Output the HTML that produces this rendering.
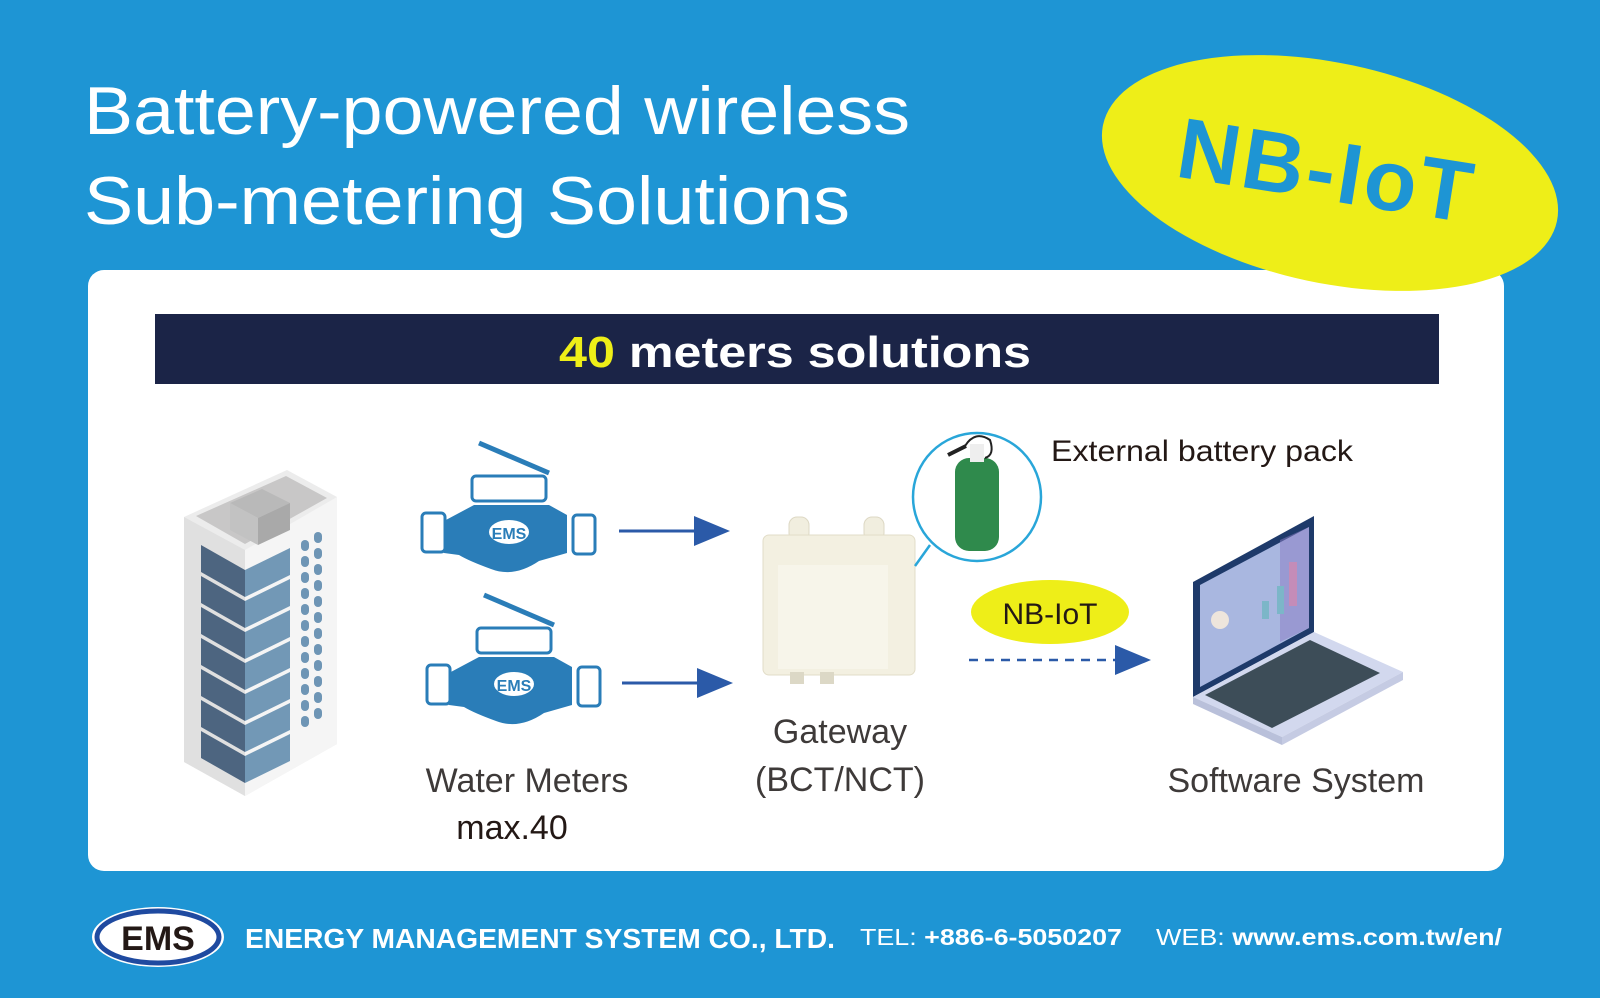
<!DOCTYPE html>
<html><head><meta charset="utf-8"><style>
html,body{margin:0;padding:0}
body{width:1600px;height:998px;background:#1e95d4;position:relative;overflow:hidden;font-family:"Liberation Sans",sans-serif}
svg{position:absolute;left:0;top:0}
</style></head><body>
<svg width="1600" height="998" viewBox="0 0 1600 998" xmlns="http://www.w3.org/2000/svg">
<rect width="1600" height="998" fill="#1e95d4"/>
<text x="84" y="134" font-size="68" fill="#fff" textLength="826" lengthAdjust="spacingAndGlyphs">Battery-powered wireless</text>
<text x="84" y="224" font-size="68" fill="#fff" textLength="766" lengthAdjust="spacingAndGlyphs">Sub-metering Solutions</text>
<rect x="88" y="270" width="1416" height="601" rx="16" fill="#fff"/>
<ellipse cx="1330" cy="173" rx="232" ry="110" transform="rotate(12 1330 173)" fill="#eeee18"/>
<text x="1326" y="200" font-size="86" font-weight="bold" fill="#1e95d4" text-anchor="middle" transform="rotate(9 1326 175)" letter-spacing="3">NB-IoT</text>
<rect x="155" y="314" width="1284" height="70" fill="#1b2447"/>
<text x="559" y="367" font-size="44" font-weight="bold" fill="#fff" textLength="472" lengthAdjust="spacingAndGlyphs"><tspan fill="#eeee18">40</tspan> meters solutions</text>
<g>
<polygon points="184,517 287,470 337,497 337,744 245,796 184,762" fill="#ececec"/>
<polygon points="245,550 337,497 337,744 245,796" fill="#f5f5f5"/>
<polygon points="184,517 245,550 245,796 184,762" fill="#e0e0e0"/>
<polygon points="196,516 286,476 327,498 245,544" fill="#c8c7c7"/>
<polygon points="230,503 262,489 290,503 258,518" fill="#b9b9b9"/>
<polygon points="258,518 290,503 290,530 258,545" fill="#a9a9a9"/>
<polygon points="230,503 258,518 258,545 230,530" fill="#c2c2c2"/>
<g fill="#4d6580">
<polygon points="201,545 245,570 245,597 201,572"/><polygon points="201,576 245,601 245,628 201,603"/>
<polygon points="201,607 245,632 245,659 201,634"/><polygon points="201,638 245,663 245,690 201,665"/>
<polygon points="201,669 245,694 245,721 201,696"/><polygon points="201,700 245,725 245,752 201,727"/>
<polygon points="201,731 245,756 245,783 201,758"/>
</g>
<g fill="#7298b6">
<polygon points="245,570 290,548 290,575 245,597"/><polygon points="245,601 290,579 290,606 245,628"/>
<polygon points="245,632 290,610 290,637 245,659"/><polygon points="245,663 290,641 290,668 245,690"/>
<polygon points="245,694 290,672 290,699 245,721"/><polygon points="245,725 290,703 290,730 245,752"/>
<polygon points="245,756 290,734 290,761 245,783"/>
</g>
<g fill="#6e95b5">
<rect x="301" y="540" width="8" height="11" rx="4"/><rect x="314" y="532" width="8" height="11" rx="4"/>
<rect x="301" y="556" width="8" height="11" rx="4"/><rect x="314" y="548" width="8" height="11" rx="4"/>
<rect x="301" y="572" width="8" height="11" rx="4"/><rect x="314" y="564" width="8" height="11" rx="4"/>
<rect x="301" y="588" width="8" height="11" rx="4"/><rect x="314" y="580" width="8" height="11" rx="4"/>
<rect x="301" y="604" width="8" height="11" rx="4"/><rect x="314" y="596" width="8" height="11" rx="4"/>
<rect x="301" y="620" width="8" height="11" rx="4"/><rect x="314" y="612" width="8" height="11" rx="4"/>
<rect x="301" y="636" width="8" height="11" rx="4"/><rect x="314" y="628" width="8" height="11" rx="4"/>
<rect x="301" y="652" width="8" height="11" rx="4"/><rect x="314" y="644" width="8" height="11" rx="4"/>
<rect x="301" y="668" width="8" height="11" rx="4"/><rect x="314" y="660" width="8" height="11" rx="4"/>
<rect x="301" y="684" width="8" height="11" rx="4"/><rect x="314" y="676" width="8" height="11" rx="4"/>
<rect x="301" y="700" width="8" height="11" rx="4"/><rect x="314" y="692" width="8" height="11" rx="4"/>
<rect x="301" y="716" width="8" height="11" rx="4"/><rect x="314" y="708" width="8" height="11" rx="4"/>
</g>
</g>
<defs>
<g id="meter">
<line x1="60" y1="0" x2="130" y2="30" stroke="#2a7db8" stroke-width="5"/>
<rect x="53" y="33" width="74" height="25" rx="4" fill="#fff" stroke="#2a7db8" stroke-width="3"/>
<path d="M25 78 L55 62 L130 62 L148 72 L148 110 L120 118 Q95 135 72 126 Q50 118 40 112 L25 110 Z" fill="#2a7db8"/>
<rect x="3" y="70" width="23" height="39" rx="4" fill="#fff" stroke="#2a7db8" stroke-width="3"/>
<rect x="154" y="72" width="22" height="39" rx="4" fill="#fff" stroke="#2a7db8" stroke-width="3"/>
<ellipse cx="90" cy="89" rx="20" ry="12" fill="#fff"/>
<text x="90" y="96" font-size="16" font-weight="bold" fill="#2a7db8" text-anchor="middle">EMS</text>
</g>
</defs>
<use href="#meter" x="419" y="443"/>
<use href="#meter" x="424" y="595"/>
<line x1="619" y1="531" x2="698" y2="531" stroke="#2b5aa8" stroke-width="3"/>
<polygon points="694,516 730,531 694,546" fill="#2b5aa8"/>
<line x1="622" y1="683" x2="700" y2="683" stroke="#2b5aa8" stroke-width="3"/>
<polygon points="697,668 733,683 697,698" fill="#2b5aa8"/>
<rect x="789" y="517" width="20" height="24" rx="8" fill="#f1eedf" stroke="#ddd8c4"/>
<rect x="864" y="517" width="20" height="24" rx="8" fill="#f1eedf" stroke="#ddd8c4"/>
<rect x="763" y="535" width="152" height="140" rx="6" fill="#f3f0e1" stroke="#e2ddc8"/>
<rect x="778" y="565" width="110" height="104" fill="#f7f5ea"/>
<rect x="790" y="672" width="14" height="12" fill="#dcd8c6"/><rect x="820" y="672" width="14" height="12" fill="#dcd8c6"/>
<line x1="930" y1="545" x2="915" y2="566" stroke="#29a6d9" stroke-width="2.5"/>
<circle cx="977" cy="497" r="64" fill="#fff" stroke="#29a6d9" stroke-width="2.5"/>
<rect x="955" y="458" width="44" height="93" rx="14" fill="#2f8a4c"/>
<rect x="970" y="444" width="14" height="18" fill="#eee"/>
<path d="M965 446 Q975 430 990 440 Q995 455 985 458" fill="none" stroke="#222" stroke-width="2"/>
<line x1="948" y1="455" x2="966" y2="446" stroke="#222" stroke-width="4"/>
<text x="1051" y="461" font-size="30" fill="#231815" textLength="302" lengthAdjust="spacingAndGlyphs">External battery pack</text>
<ellipse cx="1050" cy="612" rx="79" ry="32" fill="#eeee18"/>
<text x="1050" y="624" font-size="30" fill="#231815" text-anchor="middle">NB-IoT</text>
<line x1="969" y1="660" x2="1118" y2="660" stroke="#2b5aa8" stroke-width="2.5" stroke-dasharray="9,7"/>
<polygon points="1115,645 1151,660 1115,675" fill="#2b5aa8"/>
<polygon points="1193,582 1314,516 1314,632 1193,697" fill="#1e3a6a"/>
<polygon points="1200,585 1309,527 1309,628 1200,687" fill="#a9b7e0"/>
<polygon points="1280,540 1309,527 1309,628 1280,642" fill="#8a7bc4" opacity="0.5"/>
<rect x="1289" y="562" width="8" height="44" fill="#c48cb8"/>
<rect x="1277" y="586" width="7" height="28" fill="#7cb6c8"/>
<rect x="1262" y="601" width="7" height="18" fill="#7cb6c8"/>
<circle cx="1220" cy="620" r="9" fill="#eee5dc"/>
<polygon points="1193,697 1314,632 1403,672 1282,737" fill="#d2d8ee"/>
<polygon points="1205,695 1310,640 1380,673 1272,728" fill="#3d4d58"/>
<polygon points="1193,697 1282,737 1282,745 1193,704" fill="#b9c0da"/>
<polygon points="1282,737 1403,672 1403,680 1282,745" fill="#c5cbe3"/>
<g font-size="34" fill="#3e3a39" text-anchor="middle">
<text x="527" y="792">Water Meters</text>
<text x="512" y="839" fill="#231815">max.40</text>
<text x="840" y="743">Gateway</text>
<text x="840" y="791">(BCT/NCT)</text>
<text x="1296" y="792">Software System</text>
</g>
<ellipse cx="158" cy="937" rx="66" ry="30" fill="#fff"/>
<ellipse cx="158" cy="937" rx="61" ry="26" fill="none" stroke="#1f4aa0" stroke-width="5"/>
<text x="158" y="950" font-size="34" font-weight="bold" fill="#231815" text-anchor="middle">EMS</text>
<text x="245" y="948" font-size="28" font-weight="bold" fill="#fff" textLength="590" lengthAdjust="spacingAndGlyphs">ENERGY MANAGEMENT SYSTEM CO., LTD.</text>
<text x="860" y="945" font-size="23" fill="#fff" textLength="262" lengthAdjust="spacingAndGlyphs">TEL: <tspan font-weight="bold">+886-6-5050207</tspan></text>
<text x="1156" y="945" font-size="23" fill="#fff" textLength="346" lengthAdjust="spacingAndGlyphs">WEB: <tspan font-weight="bold">www.ems.com.tw/en/</tspan></text>
</svg>
</body></html>
